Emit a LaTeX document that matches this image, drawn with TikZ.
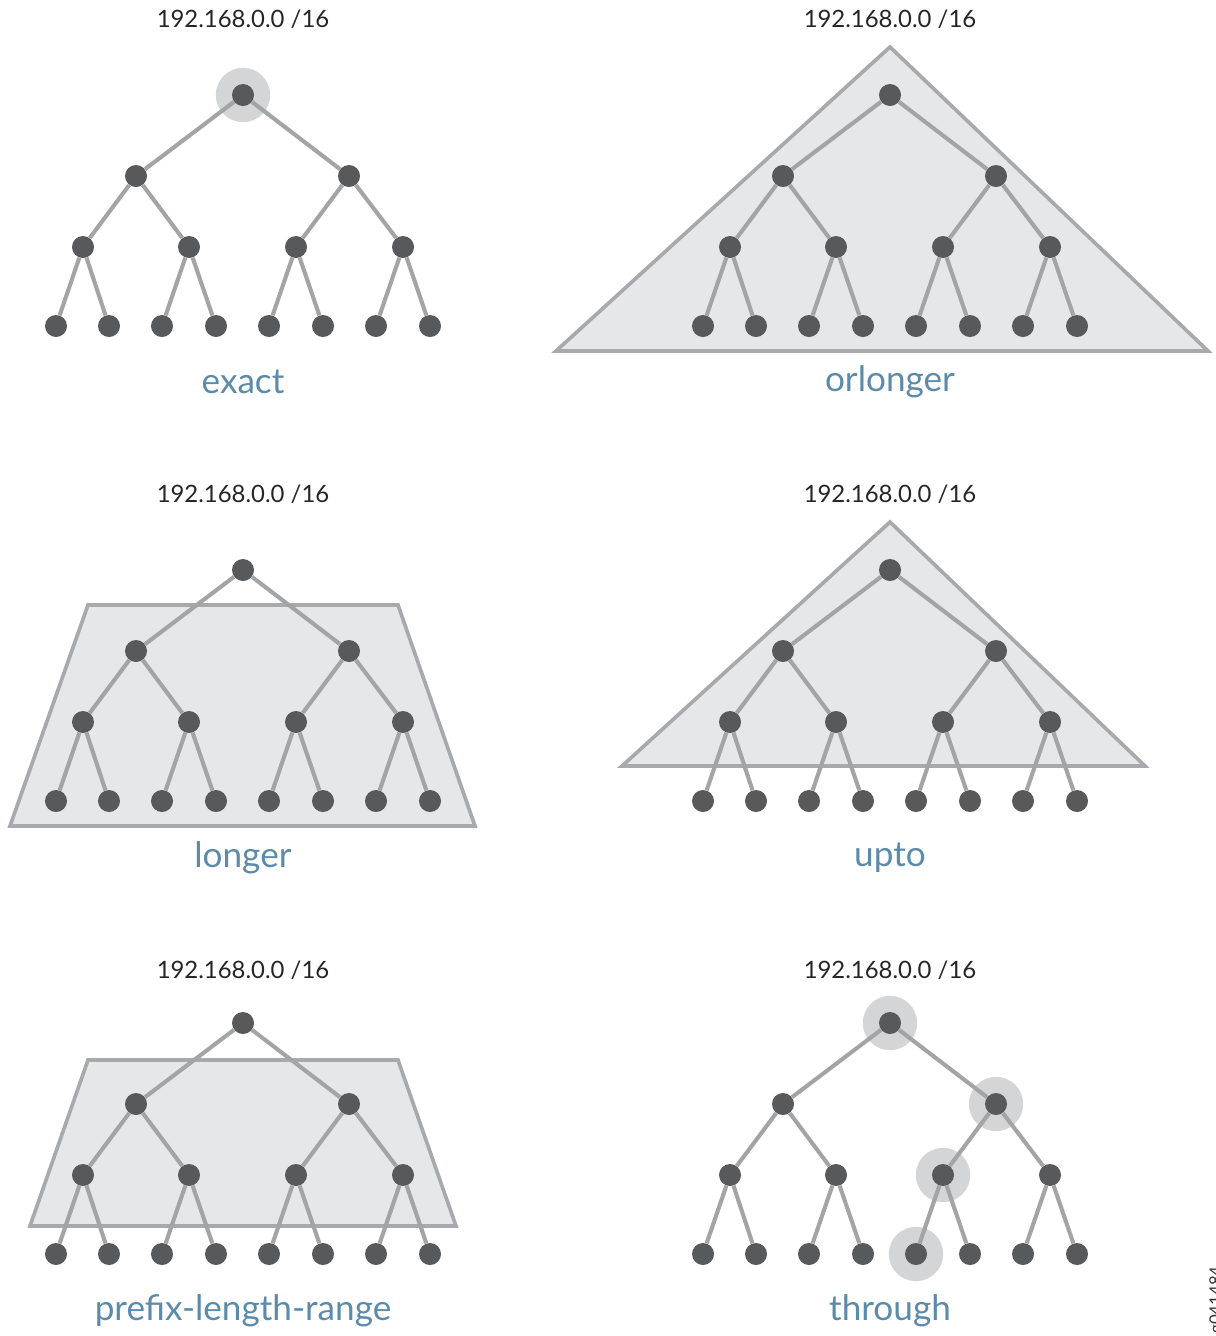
\documentclass[tikz,border=0pt]{standalone}
\usepackage{fontspec}
\setmainfont{Lato}
\usetikzlibrary{backgrounds}

\definecolor{dotgray}{HTML}{58595B}
\definecolor{edgegray}{HTML}{A3A4A6}
\definecolor{halogray}{HTML}{D4D5D7}
\definecolor{areafill}{HTML}{E6E7E8}
\definecolor{areadraw}{HTML}{A7A9AC}
\definecolor{modeblue}{HTML}{5B8BAA}

\tikzset{
  dot/.style={circle, fill=dotgray, inner sep=0pt, minimum size=0.55cm},
  edge/.style={draw=edgegray, line width=2.9pt},
  area/.style={fill=areafill, draw=areadraw, line width=2.6pt, line join=miter},
  halo/.style={fill=halogray},
  iplabel/.style={font=\fontsize{17}{20}\selectfont, text=black!85},
  modelabel/.style={font=\fontsize{25}{30}\selectfont, text=modeblue},
}

% one binary prefix tree; #1 = name prefix, (#2,#3) = shift in px
\newcommand{\prefixtree}[3]{%
  \begin{scope}[shift={(#2,#3)}]
    \node[dot] (#1r) at (243,95) {};
    \node[dot] (#1a) at (136,176) {};
    \node[dot] (#1b) at (349,176) {};
    \foreach \i/\x in {1/83,2/189,3/296,4/403}
      \node[dot] (#1m\i) at (\x,247) {};
    \foreach \i/\x in {1/56,2/109,3/162,4/216,5/269,6/323,7/376,8/430}
      \node[dot] (#1l\i) at (\x,326) {};
  \end{scope}
  \draw[edge] (#1r) -- (#1a);
  \draw[edge] (#1r) -- (#1b);
  \draw[edge] (#1a) -- (#1m1);
  \draw[edge] (#1a) -- (#1m2);
  \draw[edge] (#1b) -- (#1m3);
  \draw[edge] (#1b) -- (#1m4);
  \foreach \m/\p/\q in {1/1/2,2/3/4,3/5/6,4/7/8} {
    \draw[edge] (#1m\m) -- (#1l\p);
    \draw[edge] (#1m\m) -- (#1l\q);
  }
}

\begin{document}
\begin{tikzpicture}[x=0.025cm, y=-0.025cm]
  \useasboundingbox (0,0) rectangle (1216,1336);

  % Match areas
  \draw[area] (890,47) -- (1208,351) -- (556,351) -- cycle;
  \draw[area] (88,605) -- (398,605) -- (475,826) -- (10,826) -- cycle;
  \draw[area] (890,522) -- (1145,766) -- (622,766) -- cycle;
  \draw[area] (88,1060) -- (398,1060) -- (456,1226) -- (30,1226) -- cycle;

  % Trees
  \prefixtree{ex}{0}{0}
  \prefixtree{or}{647}{0}
  \prefixtree{lo}{0}{475}
  \prefixtree{up}{647}{475}
  \prefixtree{pl}{0}{928}
  \prefixtree{th}{647}{928}

  % Highlighted prefixes
  \begin{pgfonlayer}{background}
    \foreach \n in {exr,thr,thb,thm3,thl5}
      \fill[halo] (\n) circle (0.68cm);
  \end{pgfonlayer}

  % Prefix labels
  \node[iplabel] (exip) at (243,19) {192.168.0.0 /16};
  \node[iplabel] (orip) at (890,19) {192.168.0.0 /16};
  \node[iplabel] (loip) at (243,494) {192.168.0.0 /16};
  \node[iplabel] (upip) at (890,494) {192.168.0.0 /16};
  \node[iplabel] (plip) at (243,970) {192.168.0.0 /16};
  \node[iplabel] (thip) at (890,970) {192.168.0.0 /16};

  % Match types
  \node[modelabel] (exmode) at (243,382) {exact};
  \node[modelabel] (ormode) at (890,382) {orlonger};
  \node[modelabel] (lomode) at (243,858) {longer};
  \node[modelabel] (upmode) at (890,858) {upto};
  \node[modelabel] (plmode) at (243,1311) {prefix-length-range};
  \node[modelabel] (thmode) at (890,1311) {through};

  \node[rotate=90, font=\fontsize{12}{14}\selectfont, text=black!80] (figid) at (1217,1300) {g041484};
\end{tikzpicture}
\end{document}
